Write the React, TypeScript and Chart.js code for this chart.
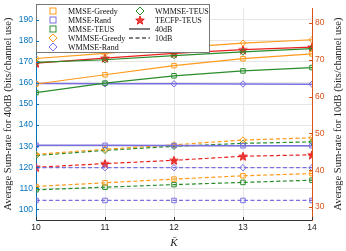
import React, { useEffect, useRef } from "react";
import { Chart, registerables } from "chart.js";
Chart.register(...registerables);

const K = [10, 11, 12, 13, 14];
const leftTicks = [100, 110, 120, 130, 140, 150, 160, 170, 180, 190];
const rightTicks = [30, 40, 50, 60, 70, 80];

// 40 dB (left axis, solid)
const mmseGreedy40 = [159.5, 163.9, 168.2, 171.5, 173.8];
const mmseRand40 = [130.5, 130.4, 130.3, 130.2, 130.2];
const mmseTeus40 = [155.4, 159.9, 163.4, 165.7, 167.3];
const wmmseGreedy40 = [171.6, 174.0, 176.6, 178.9, 180.5];
const wmmseRand40 = [159.7, 159.6, 159.6, 159.5, 159.4];
const wmmseTeus40 = [169.8, 171.0, 173.0, 174.7, 176.3];
const tecfpTeus40 = [169.4, 171.8, 174.0, 175.8, 177.0];

// 10 dB (right axis, dashed)
const mmseGreedy10 = [35.6, 36.6, 37.6, 38.5, 39.1];
const mmseRand10 = [31.8, 31.8, 31.8, 31.8, 31.8];
const mmseTeus10 = [34.7, 35.4, 36.1, 36.7, 37.3];
const wmmseGreedy10 = [44.3, 45.7, 46.9, 48.2, 48.8];
const wmmseRand10 = [40.7, 40.7, 40.7, 40.7, 40.7];
const wmmseTeus10 = [44.0, 45.4, 46.5, 47.3, 47.7];
const tecfpTeus10 = [40.8, 41.8, 42.7, 43.8, 44.2];

const ORANGE = "#FF9A1A";
const GREEN = "#2A8C2A";
const PURPLE = "#7A6FE0";
const RED = "#E8211E";
const BLUE_AX = "#0072BD";
const ORANGE_AX = "#D95319";
const SERIF = "'Liberation Serif', 'Times New Roman', serif";
const SANS = "'Liberation Sans', Arial, sans-serif";

function makeStar(color: string, size: number) {
  const c = document.createElement("canvas");
  c.width = size;
  c.height = size;
  const ctx = c.getContext("2d")!;
  const cx = size / 2, cy = size / 2 + 0.5;
  const R = size / 2 - 0.5, r = R * 0.42;
  ctx.beginPath();
  for (let i = 0; i < 10; i++) {
    const rad = i % 2 === 0 ? R : r;
    const a = -Math.PI / 2 + (i * Math.PI) / 5;
    const px = cx + rad * Math.cos(a), py = cy + rad * Math.sin(a);
    if (i === 0) ctx.moveTo(px, py); else ctx.lineTo(px, py);
  }
  ctx.closePath();
  ctx.fillStyle = color;
  ctx.globalAlpha = 0.85;
  ctx.fill();
  ctx.globalAlpha = 1;
  ctx.strokeStyle = color;
  ctx.lineWidth = 1;
  ctx.stroke();
  return c;
}

type Series = { label: string; v: number[]; color: string; style: any; axis: string; dash: boolean };

export default function App() {
  const ref = useRef<HTMLCanvasElement>(null);
  useEffect(() => {
    const star = makeStar(RED, 10);
    const series: Series[] = [
      { label: "MMSE-Greedy", v: mmseGreedy40, color: ORANGE, style: "rect", axis: "y", dash: false },
      { label: "MMSE-Rand", v: mmseRand40, color: PURPLE, style: "rect", axis: "y", dash: false },
      { label: "MMSE-TEUS", v: mmseTeus40, color: GREEN, style: "rect", axis: "y", dash: false },
      { label: "WMMSE-Greedy", v: wmmseGreedy40, color: ORANGE, style: "rectRot", axis: "y", dash: false },
      { label: "WMMSE-Rand", v: wmmseRand40, color: PURPLE, style: "rectRot", axis: "y", dash: false },
      { label: "WMMSE-TEUS", v: wmmseTeus40, color: GREEN, style: "rectRot", axis: "y", dash: false },
      { label: "TECFP-TEUS", v: tecfpTeus40, color: RED, style: star, axis: "y", dash: false },
      { label: "MMSE-Greedy 10dB", v: mmseGreedy10, color: ORANGE, style: "rect", axis: "y1", dash: true },
      { label: "MMSE-Rand 10dB", v: mmseRand10, color: PURPLE, style: "rect", axis: "y1", dash: true },
      { label: "MMSE-TEUS 10dB", v: mmseTeus10, color: GREEN, style: "rect", axis: "y1", dash: true },
      { label: "WMMSE-Greedy 10dB", v: wmmseGreedy10, color: ORANGE, style: "rectRot", axis: "y1", dash: true },
      { label: "WMMSE-Rand 10dB", v: wmmseRand10, color: PURPLE, style: "rectRot", axis: "y1", dash: true },
      { label: "WMMSE-TEUS 10dB", v: wmmseTeus10, color: GREEN, style: "rectRot", axis: "y1", dash: true },
      { label: "TECFP-TEUS 10dB", v: tecfpTeus10, color: RED, style: star, axis: "y1", dash: true },
    ];
    const datasets = series.map((s) => ({
      label: s.label,
      data: K.map((k, i) => ({ x: k, y: s.v[i] })),
      yAxisID: s.axis,
      borderColor: s.color,
      backgroundColor: "rgba(0,0,0,0)",
      borderWidth: s.color === PURPLE && !s.dash ? 1.5 : 1.2,
      borderDash: s.dash ? [4, 2.5] : [],
      pointStyle: s.style,
      pointRadius: 3.2,
      pointBorderColor: s.color,
      pointBackgroundColor: "rgba(0,0,0,0)",
      pointBorderWidth: 1,
      tension: 0,
    }));

    const legendItems = [
      { col: 0, row: 0, label: "MMSE-Greedy", kind: "rect", color: ORANGE },
      { col: 0, row: 1, label: "MMSE-Rand", kind: "rect", color: PURPLE },
      { col: 0, row: 2, label: "MMSE-TEUS", kind: "rect", color: GREEN },
      { col: 0, row: 3, label: "WMMSE-Greedy", kind: "diamond", color: ORANGE },
      { col: 0, row: 4, label: "WMMSE-Rand", kind: "diamond", color: PURPLE },
      { col: 1, row: 0, label: "WMMSE-TEUS", kind: "diamond", color: GREEN },
      { col: 1, row: 1, label: "TECFP-TEUS", kind: "star", color: RED },
      { col: 1, row: 2, label: "40dB", kind: "solid", color: "#555" },
      { col: 1, row: 3, label: "10dB", kind: "dashed", color: "#555" },
    ];

    const overlay = {
      id: "overlay",
      afterDraw(chart: any) {
        const ctx = chart.ctx;
        const ca = chart.chartArea;
        ctx.save();
        // legend box
        const bx = 36, by = 4, bw = 173, bh = 48;
        ctx.fillStyle = "#fff";
        ctx.fillRect(bx, by, bw, bh);
        ctx.strokeStyle = "#777";
        ctx.lineWidth = 1;
        ctx.strokeRect(bx + 0.5, by + 0.5, bw, bh);
        ctx.font = `8px ${SERIF}`;
        ctx.textBaseline = "middle";
        ctx.textAlign = "left";
        for (const it of legendItems) {
          const y = 11 + it.row * 9;
          const mx = it.col === 0 ? 53 : 140;
          const tx = it.col === 0 ? 68 : 155;
          ctx.strokeStyle = it.color;
          ctx.lineWidth = 1;
          ctx.setLineDash([]);
          if (it.kind === "rect") {
            ctx.strokeRect(mx - 3, y - 3, 6, 6);
          } else if (it.kind === "diamond") {
            ctx.beginPath();
            ctx.moveTo(mx, y - 4);
            ctx.lineTo(mx + 4, y);
            ctx.lineTo(mx, y + 4);
            ctx.lineTo(mx - 4, y);
            ctx.closePath();
            ctx.stroke();
          } else if (it.kind === "star") {
            ctx.drawImage(star, mx - 5, y - 5);
          } else {
            ctx.lineWidth = 1.5;
            if (it.kind === "dashed") ctx.setLineDash([4, 2.5]);
            ctx.beginPath();
            ctx.moveTo(129, y);
            ctx.lineTo(150, y);
            ctx.stroke();
            ctx.setLineDash([]);
          }
          ctx.fillStyle = "#111";
          ctx.fillText(it.label, tx, y + 0.5);
        }
        // axis titles
        ctx.fillStyle = "#222";
        ctx.font = `10.5px ${SERIF}`;
        ctx.textAlign = "center";
        ctx.textBaseline = "middle";
        const cy = (ca.top + ca.bottom) / 2;
        ctx.save();
        ctx.translate(8, cy);
        ctx.rotate(-Math.PI / 2);
        ctx.fillText("Average Sum-rate for 40dB (bits/channel use)", 0, 0);
        ctx.restore();
        ctx.save();
        ctx.translate(338, cy);
        ctx.rotate(-Math.PI / 2);
        ctx.fillText("Average Sum-rate for 10dB (bits/channel use)", 0, 0);
        ctx.restore();
        ctx.font = `italic 11px ${SERIF}`;
        ctx.fillText("K\u0304", (ca.left + ca.right) / 2, 243);
        // inward tick marks
        ctx.lineWidth = 1;
        const yl = chart.scales.y, yr = chart.scales.y1, xs = chart.scales.x;
        ctx.strokeStyle = BLUE_AX;
        for (const t of leftTicks) {
          const py = Math.round(yl.getPixelForValue(t)) + 0.5;
          ctx.beginPath(); ctx.moveTo(ca.left, py); ctx.lineTo(ca.left + 3, py); ctx.stroke();
        }
        ctx.strokeStyle = ORANGE_AX;
        for (const t of rightTicks) {
          const py = Math.round(yr.getPixelForValue(t)) + 0.5;
          ctx.beginPath(); ctx.moveTo(ca.right, py); ctx.lineTo(ca.right - 3, py); ctx.stroke();
        }
        ctx.strokeStyle = "#333";
        for (const t of K) {
          const px = Math.round(xs.getPixelForValue(t)) + 0.5;
          ctx.beginPath(); ctx.moveTo(px, ca.bottom); ctx.lineTo(px, ca.bottom - 3); ctx.stroke();
        }
        ctx.restore();
      },
    };

    const chart = new Chart(ref.current!, {
      type: "line",
      data: { datasets },
      plugins: [overlay],
      options: {
        responsive: false,
        animation: false,
        layout: { padding: { top: 3, left: 0, right: 0, bottom: 0 } },
        plugins: { legend: { display: false }, tooltip: { enabled: false } },
        scales: {
          x: {
            type: "linear",
            min: 10,
            max: 14,
            afterFit: (s: any) => { s.height = 31; },
            afterBuildTicks: (s: any) => { s.ticks = K.map((v) => ({ value: v })); },
            ticks: { color: "#222", font: { family: SANS, size: 8.5 }, padding: 3 },
            grid: { color: "#e6e6e6", drawTicks: false },
            border: { color: "#333" },
          },
          y: {
            position: "left",
            min: 95,
            max: 195.5,
            afterFit: (s: any) => { s.width = 36; },
            afterBuildTicks: (s: any) => { s.ticks = leftTicks.map((v) => ({ value: v })); },
            ticks: { color: BLUE_AX, font: { family: SANS, size: 8.5 }, padding: 3 },
            grid: { color: "#e6e6e6", drawTicks: false },
            border: { color: BLUE_AX },
          },
          y1: {
            position: "right",
            min: 26.5,
            max: 84,
            afterFit: (s: any) => { s.width = 34; },
            afterBuildTicks: (s: any) => { s.ticks = rightTicks.map((v) => ({ value: v })); },
            ticks: { color: ORANGE_AX, font: { family: SANS, size: 8.5 }, padding: 3 },
            grid: { drawOnChartArea: false, drawTicks: false },
            border: { color: ORANGE_AX },
          },
        },
      } as any,
    });
    return () => chart.destroy();
  }, []);
  return (
    <div style={{ position: "fixed", left: 0, top: 0, width: 346, height: 251, background: "#fff" }}>
      <canvas ref={ref} width={346} height={251} style={{ width: 346, height: 251, display: "block" }} />
    </div>
  );
}
